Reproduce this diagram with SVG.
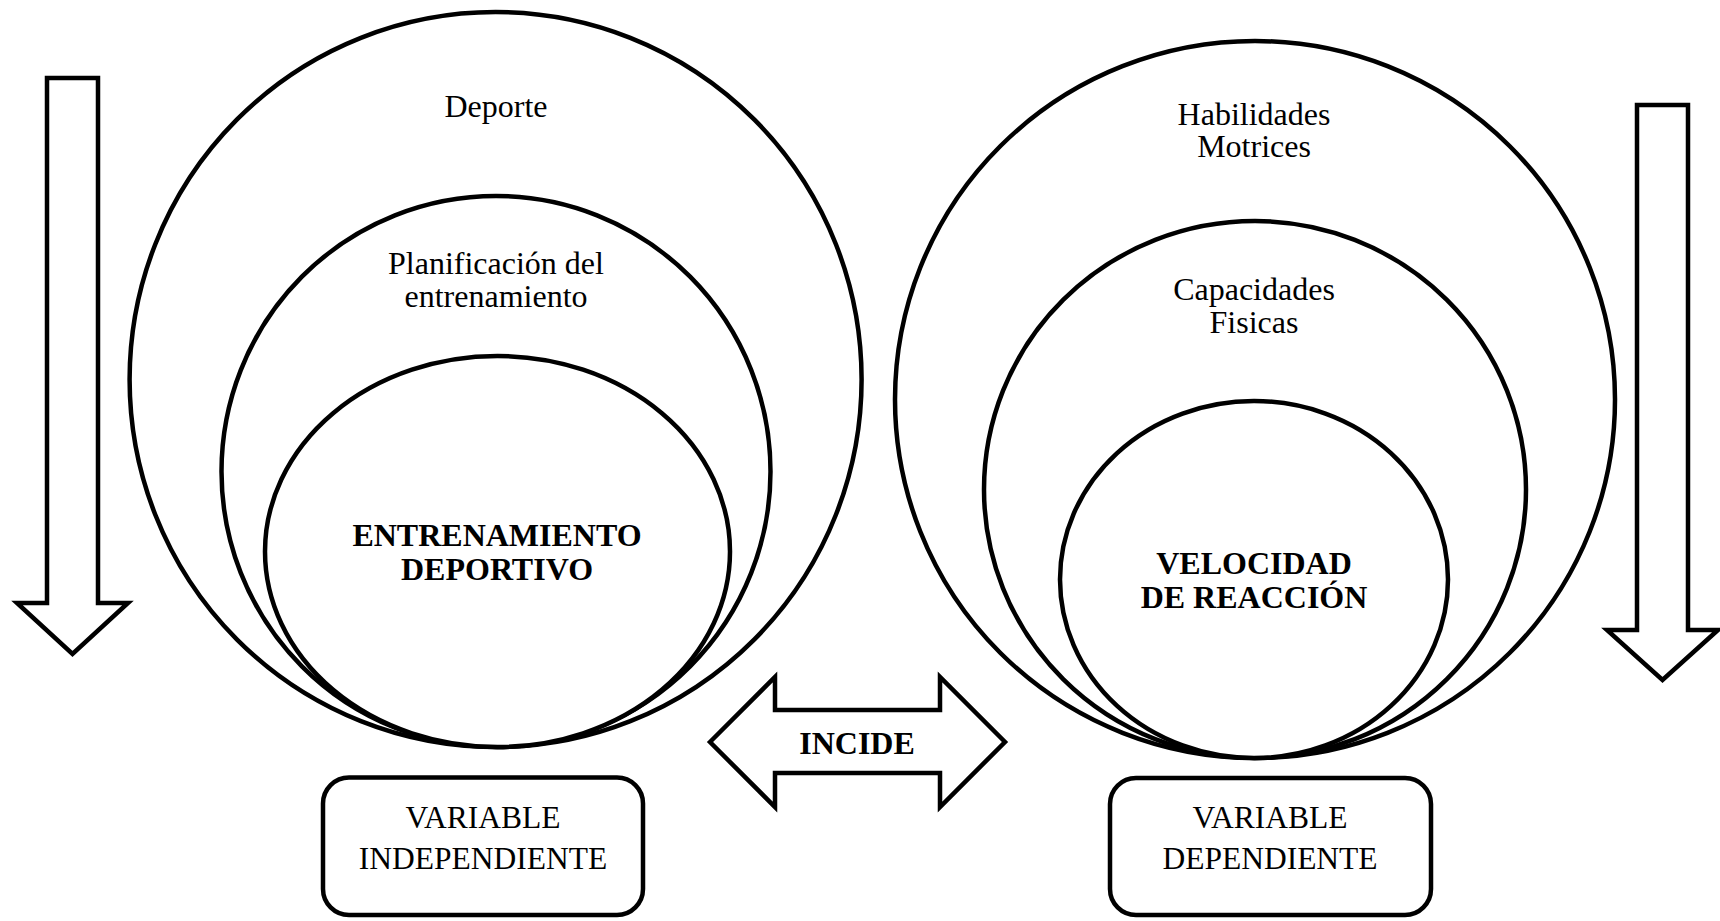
<svg xmlns="http://www.w3.org/2000/svg" width="1720" height="921" viewBox="0 0 1720 921">
<style>
.s{fill:#fff;stroke:#000;stroke-width:4.5}
.t{font-family:"Liberation Serif","Times New Roman",serif;font-size:32px;text-anchor:middle;fill:#000}
.b{font-weight:bold}
</style>
<rect width="1720" height="921" fill="#fff"/>
<g id="left-circles">
<ellipse class="s" cx="495.6" cy="379.5" rx="366" ry="367.5"/>
<ellipse class="s" cx="496" cy="471.5" rx="274.5" ry="275.5"/>
<ellipse class="s" cx="497.5" cy="551.5" rx="232.5" ry="195.5"/>
<text class="t" x="496" y="117">Deporte</text>
<text class="t" x="496" y="274">Planificación del</text>
<text class="t" x="496" y="307">entrenamiento</text>
<text class="t b" x="497" y="546">ENTRENAMIENTO</text>
<text class="t b" x="497" y="580">DEPORTIVO</text>
</g>
<g id="right-circles">
<ellipse class="s" cx="1255" cy="399.5" rx="360" ry="358.5"/>
<ellipse class="s" cx="1255" cy="489.5" rx="271" ry="268.5"/>
<ellipse class="s" cx="1254" cy="579.5" rx="194" ry="178.5"/>
<text class="t" x="1254" y="125">Habilidades</text>
<text class="t" x="1254" y="157">Motrices</text>
<text class="t" x="1254" y="300">Capacidades</text>
<text class="t" x="1254" y="333">Fisicas</text>
<text class="t b" x="1254" y="574">VELOCIDAD</text>
<text class="t b" x="1254" y="608">DE REACCIÓN</text>
</g>
<g id="connectors">
<polygon id="arrow-left" class="s" points="47,78 98,78 98,603 128,603 72.5,654 17,603 47,603"/>
<polygon id="arrow-right" class="s" points="1637,105 1688,105 1688,630 1718,630 1662.5,680 1607,630 1637,630"/>
<polygon id="arrow-incide" class="s" points="710,742 775,677 775,710 940,710 940,677 1005,742 940,807 940,773 775,773 775,807"/>
<text class="t b" x="857" y="754">INCIDE</text>
</g>
<g id="box-independiente">
<rect class="s" x="323" y="777.5" width="320" height="137.5" rx="26"/>
<text class="t" x="483" y="828" style="font-size:31.5px">VARIABLE</text>
<text class="t" x="483" y="869" style="font-size:31.5px">INDEPENDIENTE</text>
</g>
<g id="box-dependiente">
<rect class="s" x="1110" y="778" width="321" height="137" rx="26"/>
<text class="t" x="1270" y="828" style="font-size:31.5px">VARIABLE</text>
<text class="t" x="1270" y="869" style="font-size:31.5px">DEPENDIENTE</text>
</g>
</svg>
